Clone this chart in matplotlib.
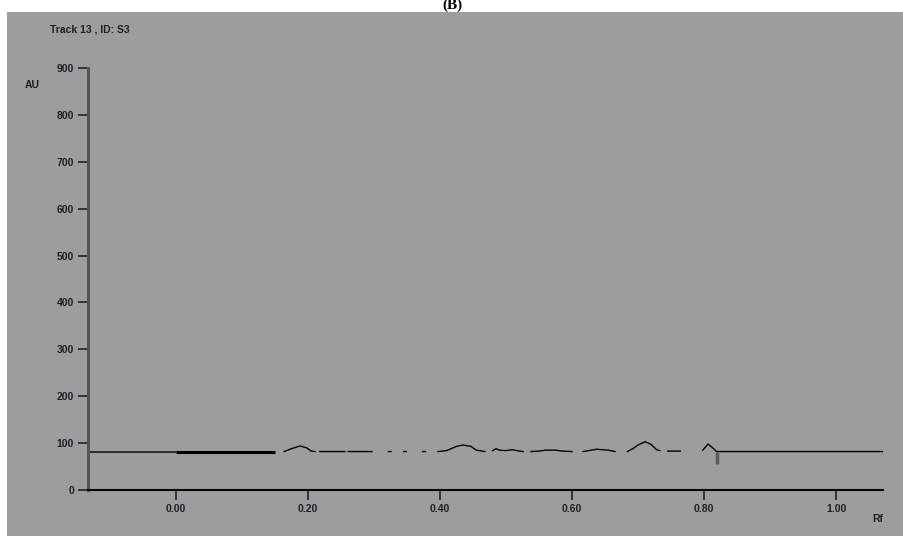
import numpy as np
import matplotlib.pyplot as plt
from matplotlib.patches import Rectangle

nan = np.nan

# densitogram trace (Rf, AU); nan = gaps in the recorded line
rf = [-0.133, 0.0, nan,
      0.164, 0.175, 0.188, 0.198, 0.205, 0.211, nan,
      0.218, 0.256, nan,
      0.261, 0.297, nan,
      0.322, 0.326, nan, 0.345, 0.349, nan, 0.374, 0.378, nan,
      0.397, 0.41, 0.425, 0.435, 0.447, 0.455, 0.468, nan,
      0.480, 0.485, 0.49, 0.50, 0.51, 0.52, 0.526, nan,
      0.538, 0.55, 0.56, 0.575, 0.585, 0.60, nan,
      0.617, 0.625, 0.638, 0.645, 0.655, 0.665, nan,
      0.684, 0.692, 0.70, 0.711, 0.72, 0.728, 0.733, nan,
      0.745, 0.764, nan,
      0.798, 0.806, 0.813, 0.819, 1.071]
au = [81, 81, nan,
      82, 88, 94, 90, 83, 82, nan,
      82, 82, nan,
      82, 82, nan,
      82, 82, nan, 82, 82, nan, 82, 82, nan,
      82, 84, 93, 96, 93, 85, 82, nan,
      84, 88, 85, 84, 86, 83, 82, nan,
      82, 83, 85, 85, 83, 82, nan,
      82, 84, 87, 86, 85, 82, nan,
      82, 88, 96, 103, 97, 86, 84, nan,
      83, 83, nan,
      85, 98, 90, 82, 82]

# thick start band and the gray marker at the end
band_rf = [0.0, 0.15]
band_au = [82, 82]
mark_rf = [0.819, 0.819]
mark_au = [82, 55]

yticks = [0, 100, 200, 300, 400, 500, 600, 700, 800, 900]
xticks = [0.0, 0.2, 0.4, 0.6, 0.8, 1.0]

W, H = 904, 536
fig = plt.figure(figsize=(W / 100, H / 100), dpi=100, facecolor='white')
fig.patches.append(Rectangle((7 / W, 0), 1, (H - 12) / H, transform=fig.transFigure,
                             facecolor='#9d9d9d', edgecolor='none', zorder=-5))
fig.text(0.5, 1 - 5 / H, '(B)', ha='center', va='center', fontsize=11,
         fontweight='bold', family='Liberation Serif')

ax = fig.add_axes([88 / W, (H - 490) / H, (883 - 88) / W, (490 - 68) / H])
ax.set_zorder(2)
ax.patch.set_visible(False)
ax.plot(rf, au, color='black', lw=1.0)
ax.plot(band_rf, band_au, color='black', lw=2.2, solid_capstyle='butt')
ax.plot(mark_rf, mark_au, color='#5a5a5a', lw=2.5, solid_capstyle='butt')

ax.set_xlim(-0.133, 1.071)
ax.set_ylim(0, 900)
ax.set_xticks(xticks)
ax.set_xticklabels([f'{v:.2f}' for v in xticks])
ax.set_yticks(yticks)
for s in ['top', 'right']:
    ax.spines[s].set_visible(False)
ax.spines['left'].set_color('#555555')
ax.spines['left'].set_linewidth(2.2)
ax.spines['bottom'].set_color('black')
ax.spines['bottom'].set_linewidth(1.5)
ax.tick_params(axis='both', direction='out', length=7, width=1.2, color='#222222',
               labelsize=7.5, labelcolor='#1f1f2a', pad=3)
for lab in ax.get_xticklabels() + ax.get_yticklabels():
    lab.set_family('Liberation Sans')
    lab.set_fontweight('bold')

txt = dict(fontsize=7.5, color='#1f1f2a', family='Liberation Sans', fontweight='bold')
fig.text(50 / W, 1 - 29 / H, 'Track 13 , ID: S3', va='center', ha='left', **txt)
fig.text(32 / W, 1 - 85 / H, 'AU', va='center', ha='center', **txt)
fig.text(878 / W, 1 - 519 / H, 'Rf', va='center', ha='center', **txt)

fig.savefig('out.png', dpi=100, facecolor='white')
